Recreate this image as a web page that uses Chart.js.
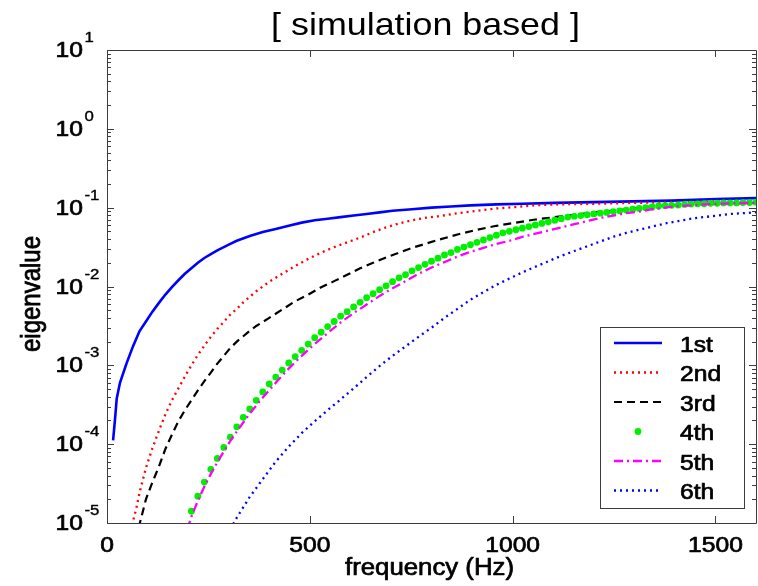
<!DOCTYPE html>
<html>
<head>
<meta charset="utf-8">
<script src="https://cdn.jsdelivr.net/npm/chart.js@4/dist/chart.umd.min.js"></script>
<style>
  html, body { margin: 0; padding: 0; background: #fff; overflow: hidden; width: 758px; height: 586px; }
  canvas { display: block; }
</style>
</head>
<body>
<canvas id="c" width="760" height="586"></canvas>
<script>
// Labels
const chartTitle = '[ simulation based ]';
const xTitle = 'frequency (Hz)';
const yTitle = 'eigenvalue';
const xTicks = [0, 500, 1000, 1500];
const yTickExponents = [1, 0, -1, -2, -3, -4, -5];
const seriesNames = ['1st', '2nd', '3rd', '4th', '5th', '6th'];

// 1st eigenvalue
const freq1 = [15, 20, 24, 32, 48, 64, 80, 96, 112, 128, 144, 160, 176, 192, 208, 224, 240, 256, 272, 288, 304, 320, 352, 384, 416, 448, 480, 512, 544, 576, 608, 640, 672, 704, 752, 800, 848, 896, 960, 1024, 1104, 1200, 1296, 1392, 1504, 1600];
const eig1 = [1.12e-4, 2.14e-4, 3.8e-4, 6.0e-4, 1.05e-3, 1.74e-3, 2.7e-3, 3.6e-3, 4.8e-3, 6.2e-3, 7.9e-3, 9.8e-3, 0.012, 0.0145, 0.017, 0.020, 0.023, 0.0257, 0.0288, 0.0316, 0.0347, 0.038, 0.0437, 0.049, 0.0537, 0.0589, 0.0646, 0.0692, 0.0724, 0.0759, 0.0794, 0.0832, 0.0871, 0.0912, 0.0955, 0.100, 0.1035, 0.107, 0.110, 0.112, 0.115, 0.1175, 0.120, 0.123, 0.129, 0.132];

// 2nd eigenvalue
const freq2 = [58, 64, 72, 80, 96, 112, 128, 144, 160, 176, 192, 208, 224, 240, 256, 272, 288, 304, 320, 336, 352, 368, 384, 400, 432, 464, 496, 528, 560, 592, 624, 656, 688, 720, 752, 784, 816, 864, 912, 960, 1008, 1056, 1104, 1200, 1300, 1400, 1500, 1600];
const eig2 = [7.9e-6, 1.05e-5, 1.51e-5, 2.4e-5, 5.0e-5, 8.9e-5, 1.48e-4, 2.4e-4, 3.6e-4, 5.1e-4, 7.2e-4, 1.0e-3, 1.35e-3, 1.78e-3, 2.3e-3, 2.9e-3, 3.55e-3, 4.4e-3, 5.2e-3, 6.3e-3, 7.4e-3, 8.7e-3, 0.0100, 0.0115, 0.0145, 0.0182, 0.0224, 0.0269, 0.0316, 0.0363, 0.0417, 0.049, 0.0562, 0.0631, 0.0692, 0.0741, 0.0776, 0.0851, 0.0912, 0.0977, 0.102, 0.107, 0.110, 0.112, 0.115, 0.1175, 0.119, 0.120];

// 3rd eigenvalue
const freq3 = [78, 96, 112, 128, 144, 160, 176, 192, 208, 224, 240, 256, 272, 288, 304, 320, 336, 352, 368, 384, 400, 432, 464, 496, 528, 560, 592, 624, 656, 688, 720, 752, 784, 816, 864, 912, 960, 1008, 1056, 1104, 1152, 1200, 1264, 1328, 1392, 1456, 1520, 1600];
const eig3 = [8.7e-6, 2.0e-5, 3.3e-5, 5.2e-5, 8.7e-5, 1.32e-4, 1.95e-4, 2.7e-4, 3.6e-4, 4.8e-4, 6.3e-4, 8.1e-4, 1.05e-3, 1.32e-3, 1.66e-3, 2.0e-3, 2.34e-3, 2.75e-3, 3.16e-3, 3.55e-3, 4.0e-3, 5.1e-3, 6.5e-3, 7.9e-3, 9.8e-3, 0.0117, 0.0141, 0.0170, 0.0200, 0.0234, 0.0269, 0.0309, 0.0347, 0.0389, 0.0457, 0.0525, 0.0589, 0.0646, 0.0708, 0.0759, 0.0813, 0.0871, 0.0933, 0.102, 0.107, 0.110, 0.112, 0.115];

// 4th eigenvalue (sample markers)
const freq4 = [208, 224, 240, 256, 272, 288, 304, 320, 336, 352, 368, 384, 400, 416, 432, 448, 464, 480, 496, 512, 528, 544, 560, 576, 592, 608, 624, 640, 656, 672, 688, 704, 720, 736, 752, 768, 784, 800, 816, 832, 848, 864, 880, 896, 912, 928, 944, 960, 976, 992, 1008, 1024, 1040, 1056, 1072, 1088, 1104, 1120, 1136, 1152, 1168, 1184, 1200, 1216, 1232, 1248, 1264, 1280, 1296, 1312, 1328, 1344, 1360, 1376, 1392, 1408, 1424, 1440, 1456, 1472, 1488, 1504, 1520, 1536, 1552, 1568, 1584, 1600];
const eig4 = [1.41e-5, 2.19e-5, 3.3e-5, 4.8e-5, 6.6e-5, 9.1e-5, 1.23e-4, 1.66e-4, 2.19e-4, 2.8e-4, 3.6e-4, 4.6e-4, 5.8e-4, 7.1e-4, 8.7e-4, 1.07e-3, 1.29e-3, 1.55e-3, 1.86e-3, 2.24e-3, 2.63e-3, 3.1e-3, 3.6e-3, 4.2e-3, 4.8e-3, 5.5e-3, 6.3e-3, 7.2e-3, 8.1e-3, 9.1e-3, 0.0102, 0.0115, 0.0129, 0.0141, 0.0158, 0.0174, 0.0191, 0.0209, 0.0229, 0.0251, 0.0269, 0.0295, 0.0316, 0.0339, 0.0363, 0.0389, 0.0417, 0.0447, 0.0479, 0.0501, 0.0525, 0.055, 0.0575, 0.0603, 0.0631, 0.0661, 0.0692, 0.0724, 0.0759, 0.0776, 0.0794, 0.0813, 0.0832, 0.0851, 0.0871, 0.0891, 0.0912, 0.0933, 0.0955, 0.0977, 0.100, 0.102, 0.105, 0.106, 0.107, 0.108, 0.110, 0.111, 0.112, 0.112, 0.1135, 0.1135, 0.115, 0.115, 0.115, 0.116, 0.116, 0.1175];

// 5th eigenvalue
const freq5 = [198, 208, 224, 240, 256, 272, 288, 304, 320, 352, 384, 416, 448, 480, 512, 544, 576, 608, 640, 672, 704, 736, 768, 800, 832, 864, 896, 928, 960, 992, 1024, 1056, 1088, 1120, 1152, 1184, 1216, 1248, 1280, 1312, 1344, 1376, 1408, 1440, 1472, 1504, 1536, 1600];
const eig5 = [8.3e-6, 1.2e-5, 1.91e-5, 2.9e-5, 4.2e-5, 5.9e-5, 8.1e-5, 1.10e-4, 1.45e-4, 2.45e-4, 3.9e-4, 6.0e-4, 9.1e-4, 1.32e-3, 1.86e-3, 2.57e-3, 3.5e-3, 4.6e-3, 5.9e-3, 7.6e-3, 9.5e-3, 0.0117, 0.0145, 0.0174, 0.0204, 0.0240, 0.0275, 0.0309, 0.0347, 0.038, 0.0427, 0.0468, 0.0513, 0.0562, 0.0617, 0.0676, 0.0741, 0.0794, 0.0851, 0.0891, 0.0955, 0.100, 0.105, 0.107, 0.110, 0.112, 0.1135, 0.115];

// 6th eigenvalue
const freq6 = [304, 320, 352, 384, 416, 448, 480, 512, 544, 576, 608, 640, 672, 704, 736, 768, 800, 832, 864, 896, 928, 960, 992, 1024, 1056, 1088, 1120, 1152, 1184, 1216, 1248, 1280, 1312, 1344, 1376, 1408, 1440, 1472, 1504, 1536, 1568, 1600];
const eig6 = [8.3e-6, 1.17e-5, 2.14e-5, 3.6e-5, 6.0e-5, 9.3e-5, 1.38e-4, 1.95e-4, 2.7e-4, 3.7e-4, 5.1e-4, 7.1e-4, 9.8e-4, 1.32e-3, 1.74e-3, 2.3e-3, 3.0e-3, 4.0e-3, 5.2e-3, 6.8e-3, 8.5e-3, 0.0105, 0.0126, 0.0151, 0.0178, 0.0209, 0.0245, 0.0282, 0.0324, 0.0372, 0.0427, 0.0479, 0.0525, 0.0575, 0.0631, 0.0676, 0.0724, 0.0759, 0.0794, 0.0832, 0.0851, 0.0871];

const FONT = '"Liberation Sans", Arial, Helvetica, sans-serif';
const SX = 1.12; // horizontal widening of the Helvetica-style lettering

function toPoints(xs, ys) {
  return xs.map((x, i) => ({ x: x, y: ys[i] }));
}

// text with optional horizontal widening and a light outline for a heavier stroke
function text(ctx, str, x, y, size, align, sx, weight) {
  ctx.save();
  ctx.font = size + 'px ' + FONT;
  ctx.textAlign = align;
  ctx.textBaseline = 'alphabetic';
  ctx.fillStyle = '#000';
  ctx.translate(x, y);
  ctx.scale(sx, 1);
  ctx.fillText(str, 0, 0);
  if (weight) {
    ctx.strokeStyle = '#000';
    ctx.lineWidth = weight;
    ctx.lineJoin = 'round';
    ctx.strokeText(str, 0, 0);
  }
  ctx.restore();
}

const datasets = [
  { label: seriesNames[0], data: toPoints(freq1, eig1), borderColor: '#0000ff', borderWidth: 2.6, borderDash: [], showLine: true, pointRadius: 0 },
  { label: seriesNames[1], data: toPoints(freq2, eig2), borderColor: '#ff0000', borderWidth: 2.3, borderDash: [2, 4], showLine: true, pointRadius: 0 },
  { label: seriesNames[2], data: toPoints(freq3, eig3), borderColor: '#000000', borderWidth: 2.2, borderDash: [8, 5], showLine: true, pointRadius: 0 },
  { label: seriesNames[3], data: toPoints(freq4, eig4), borderColor: '#00f000', backgroundColor: '#00f000', showLine: false, pointRadius: 3.4, pointBorderWidth: 0, pointBackgroundColor: '#00f000' },
  { label: seriesNames[4], data: toPoints(freq5, eig5), borderColor: '#ff00ff', borderWidth: 2.3, borderDash: [9, 4, 2, 4], showLine: true, pointRadius: 0 },
  { label: seriesNames[5], data: toPoints(freq6, eig6), borderColor: '#0000ff', borderWidth: 2.3, borderDash: [2, 4], showLine: true, pointRadius: 0 }
];
// later series are painted over earlier ones
datasets.forEach((d, i) => { d.order = datasets.length - i; d.tension = 0; d.fill = false; });

const axesDecor = {
  id: 'axesDecor',
  afterDatasetsDraw(chart) {
    const ctx = chart.ctx;
    const a = chart.chartArea;
    const xs = chart.scales.x, ys = chart.scales.y;
    ctx.save();
    // box
    ctx.strokeStyle = '#3c3c3c';
    ctx.lineWidth = 1;
    ctx.beginPath();
    ctx.moveTo(a.left + 0.5, a.bottom + 0.5);
    ctx.lineTo(a.left + 0.5, a.top + 0.5);
    ctx.lineTo(a.right + 0.5, a.top + 0.5);
    ctx.lineTo(a.right + 0.5, a.bottom + 0.5);
    ctx.lineTo(a.left + 0.5, a.bottom + 0.5);
    ctx.stroke();

    // x ticks (inward, top and bottom)
    ctx.beginPath();
    xTicks.forEach(v => {
      const px = Math.round(xs.getPixelForValue(v)) + 0.5;
      ctx.moveTo(px, a.bottom); ctx.lineTo(px, a.bottom - 7);
      ctx.moveTo(px, a.top); ctx.lineTo(px, a.top + 7);
    });
    // y ticks: decades and minor 2..9
    yTickExponents.forEach(e => {
      const py = Math.round(ys.getPixelForValue(Math.pow(10, e))) + 0.5;
      ctx.moveTo(a.left, py); ctx.lineTo(a.left + 7, py);
      ctx.moveTo(a.right, py); ctx.lineTo(a.right - 7, py);
      if (e > -5) {
        for (let m = 2; m <= 9; m++) {
          const pm = Math.round(ys.getPixelForValue(m * Math.pow(10, e - 1))) + 0.5;
          ctx.moveTo(a.left, pm); ctx.lineTo(a.left + 4, pm);
          ctx.moveTo(a.right, pm); ctx.lineTo(a.right - 4, pm);
        }
      }
    });
    ctx.stroke();

    // tick labels
    xTicks.forEach(v => {
      text(ctx, String(v), xs.getPixelForValue(v), a.bottom + 29, 22, 'center', SX, 0.7);
    });
    yTickExponents.forEach(e => {
      const py = ys.getPixelForValue(Math.pow(10, e));
      text(ctx, '10', 83, py + 7, 22, 'right', SX, 0.7);
      text(ctx, String(e), 84.5, py - 8, 15, 'left', SX, 0.4);
    });

    // titles
    text(ctx, chartTitle, 425.5, 35, 32, 'center', SX, 0);
    text(ctx, xTitle, 429.5, 575, 23, 'center', SX, 0.7);
    ctx.save();
    ctx.translate(40, 294);
    ctx.rotate(-Math.PI / 2);
    ctx.font = '24px ' + FONT;
    ctx.textAlign = 'center';
    ctx.textBaseline = 'alphabetic';
    ctx.fillStyle = '#000';
    ctx.strokeStyle = '#000';
    ctx.lineWidth = 0.7;
    ctx.scale(1, SX);
    ctx.fillText(yTitle, 0, 0);
    ctx.strokeText(yTitle, 0, 0);
    ctx.restore();

    // legend
    const lx = 600, ly = 327, lw = 144, lh = 181;
    ctx.fillStyle = '#fff';
    ctx.fillRect(lx, ly, lw, lh);
    ctx.strokeStyle = '#3c3c3c';
    ctx.lineWidth = 1;
    ctx.strokeRect(lx + 0.5, ly + 0.5, lw, lh);
    chart.data.datasets.forEach((d, i) => {
      const ry = 343 + i * 29.5;
      ctx.save();
      if (d.showLine) {
        ctx.strokeStyle = d.borderColor;
        ctx.lineWidth = d.borderWidth;
        ctx.setLineDash(d.borderDash || []);
        ctx.beginPath();
        ctx.moveTo(614, ry); ctx.lineTo(662, ry);
        ctx.stroke();
      } else {
        ctx.fillStyle = d.pointBackgroundColor;
        ctx.beginPath();
        ctx.arc(638, ry, d.pointRadius, 0, Math.PI * 2);
        ctx.fill();
      }
      ctx.restore();
      text(ctx, d.label, 680, ry + 8.5, 22, 'left', SX, 0.7);
    });
    ctx.restore();
  }
};

new Chart(document.getElementById('c'), {
  type: 'scatter',
  data: { datasets: datasets },
  options: {
    responsive: false,
    devicePixelRatio: 1,
    animation: false,
    layout: { padding: { top: 50, right: 2, left: 0, bottom: 0 } },
    plugins: { legend: { display: false }, tooltip: { enabled: false }, title: { display: false } },
    scales: {
      x: {
        type: 'linear', min: 0, max: 1600,
        grid: { display: false }, border: { display: false },
        ticks: { display: false },
        afterFit(s) { s.height = 63; }
      },
      y: {
        type: 'logarithmic', min: 1e-5, max: 10,
        grid: { display: false }, border: { display: false },
        ticks: { display: false },
        afterFit(s) { s.width = 107; }
      }
    }
  },
  plugins: [axesDecor]
});
</script>
</body>
</html>
